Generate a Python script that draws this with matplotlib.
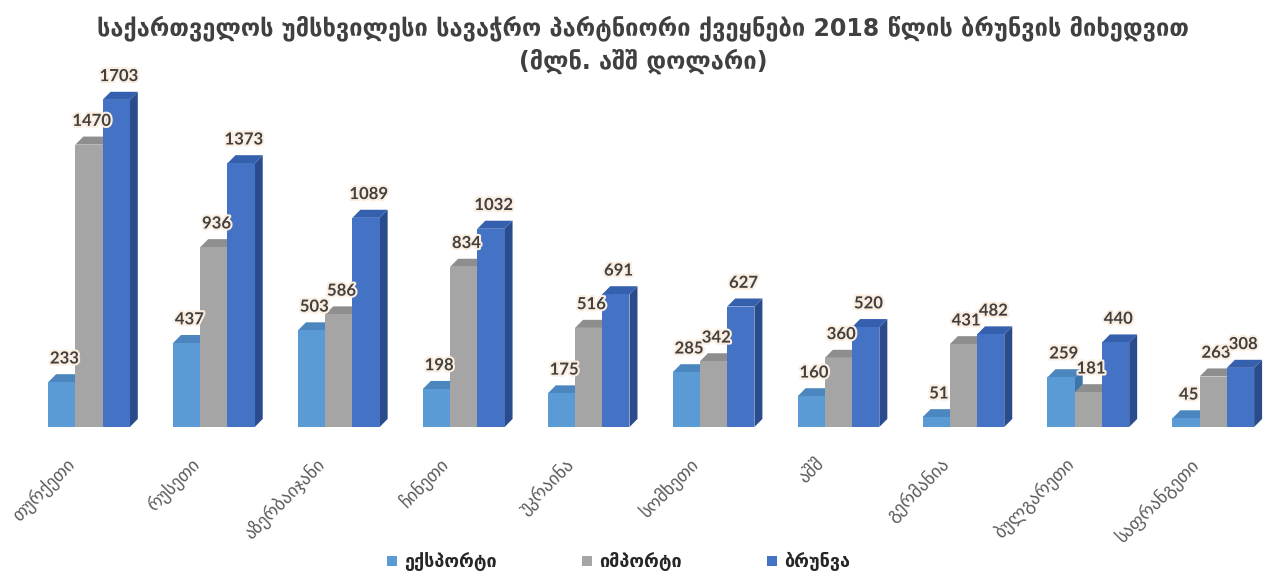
import matplotlib
matplotlib.use("Agg")
import matplotlib.pyplot as plt
from matplotlib.patches import Polygon, Patch
import matplotlib.patheffects as pe
import matplotlib.transforms as mtrans
import numpy as np

plt.rcParams['font.family'] = ['DejaVu Sans']

categories = ["თურქეთი", "რუსეთი", "აზერბაიჯანი", "ჩინეთი", "უკრაინა",
              "სომხეთი", "აშშ", "გერმანია", "ბულგარეთი", "საფრანგეთი"]
series_names = ["ექსპორტი", "იმპორტი", "ბრუნვა"]
export_vals = [233, 437, 503, 198, 175, 285, 160, 51, 259, 45]
import_vals = [1470, 936, 586, 834, 516, 342, 360, 431, 181, 263]
turnover_vals = [1703, 1373, 1089, 1032, 691, 627, 520, 482, 440, 308]
title_line1 = "საქართველოს უმსხვილესი სავაჭრო პარტნიორი ქვეყნები 2018 წლის ბრუნვის მიხედვით"
title_line2 = "(მლნ. აშშ დოლარი)"

front_colors = ["#5B9BD5", "#A5A5A5", "#4472C4"]
side_colors = ["#3E75A8", "#7A7A7A", "#2B4C8C"]
top_colors = ["#4B86BE", "#8E8E8E", "#3560AE"]

fig = plt.figure(figsize=(12.86, 5.78), dpi=100)
ax = fig.add_axes([0.0206, 0.2612, 0.9714, 0.6315])

x = np.arange(len(categories))
w = 0.218
dx = 0.064
dy = 42
all_vals = [export_vals, import_vals, turnover_vals]

for s, vals in enumerate(all_vals):
    lefts = x - 1.5 * w + s * w
    bars = ax.bar(lefts, vals, width=w, align='edge', color=front_colors[s],
                  edgecolor='none', zorder=3 + s * 2)
    for b in bars:
        x0 = b.get_x(); h = b.get_height()
        side = Polygon([(x0 + w, 0), (x0 + w + dx, dy), (x0 + w + dx, h + dy), (x0 + w, h)],
                       closed=True, facecolor=side_colors[s], edgecolor='none', zorder=2 + s * 2)
        top = Polygon([(x0, h), (x0 + dx, h + dy), (x0 + w + dx, h + dy), (x0 + w, h)],
                      closed=True, facecolor=top_colors[s], edgecolor='none', zorder=2 + s * 2)
        ax.add_patch(side); ax.add_patch(top)
        ax.text(x0 + w / 2 + dx / 3, h + dy + 40, f"{int(h)}", ha='center', va='bottom',
                fontsize=12, fontweight='bold', color='#404040', family=['Lato', 'DejaVu Sans'],
                zorder=20,
                path_effects=[pe.withStroke(linewidth=3, foreground='#fbeee0')])

ax.set_xlim(-0.5, len(categories) - 0.5)
ax.set_ylim(0, 1900)
ax.set_yticks([])
ax.set_xticks(x)
ax.set_xticklabels(categories, rotation=45, ha='right', va='top', rotation_mode='anchor',
                   fontsize=13, color='#595959')
ax.tick_params(axis='x', length=0, pad=14)
offset = mtrans.ScaledTranslation(-24 / 100, -8 / 100, fig.dpi_scale_trans)
for lbl in ax.get_xticklabels():
    lbl.set_transform(lbl.get_transform() + offset)
for sp in ax.spines.values():
    sp.set_visible(False)
ax.patch.set_alpha(0)

fig.text(0.5, 1 - 28 / 578, title_line1, ha='center', va='center', fontsize=17,
         fontweight='bold', color='#404040')
fig.text(0.5, 1 - 61 / 578, title_line2, ha='center', va='center', fontsize=17,
         fontweight='bold', color='#404040')

handles = [Patch(facecolor=c, edgecolor='none') for c in front_colors]
leg = fig.legend(handles, series_names, loc='center', bbox_to_anchor=(0.481, 0.028),
                 ncol=3, frameon=False, prop={'weight': 'bold', 'size': 13},
                 handlelength=0.55, handleheight=0.55, columnspacing=4.7, handletextpad=0.4)
for t in leg.get_texts():
    t.set_color('#262626')

fig.savefig("out.png", dpi=100)
